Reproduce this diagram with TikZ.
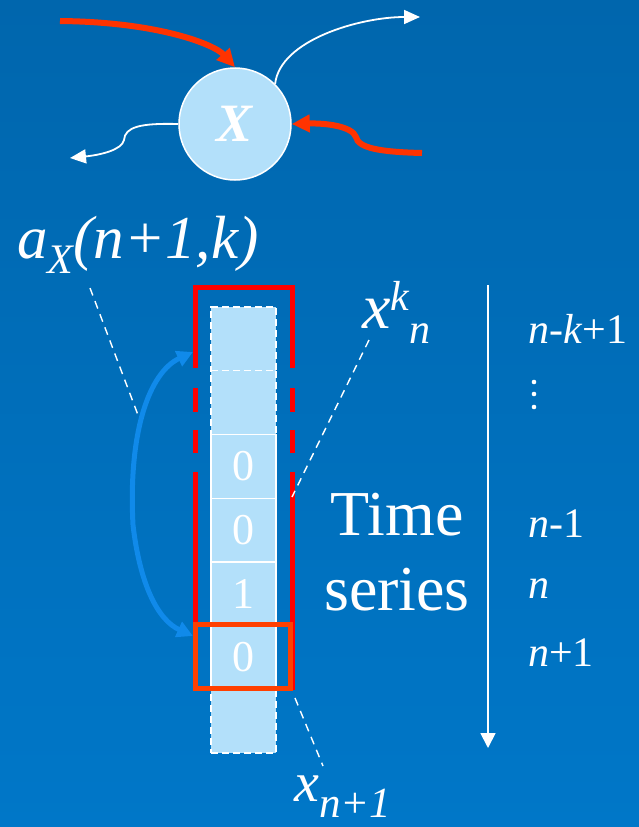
\documentclass[tikz,border=0pt]{standalone}
\usepackage{fontspec}
\setmainfont{Liberation Serif}
\usepackage{tikz}
\usetikzlibrary{arrows.meta,positioning}
\newcommand{\sz}[2]{\fontsize{#1}{#2}\selectfont}
\definecolor{BgTop}{HTML}{0066AD}
\definecolor{BgBot}{HTML}{0077C8}
\definecolor{Cell}{HTML}{B3E0FA}
\definecolor{Hot}{HTML}{FF3300}
\definecolor{Win}{HTML}{FF0000}
\definecolor{Cur}{HTML}{FF4000}
\definecolor{Link}{HTML}{108AEA}
\tikzset{
  every node/.append style={text=white},
  agent/.style={circle, draw=white, line width=1.5pt, fill=Cell, minimum size=112pt,
                inner sep=0pt, font=\sz{54}{60}\bfseries\itshape},
  cell/.style={draw=white, line width=1.3pt, fill=Cell, minimum width=65pt,
               minimum height=63.7pt, inner sep=0pt, outer sep=0pt, font=\sz{44}{50}},
  ghost/.style={cell, dash pattern=on 7pt off 4pt},
  lbl/.style={inner sep=0pt, anchor=base west},
  hotarrow/.style={-{Triangle[length=18pt,width=17pt]}, line width=6pt, draw=Hot},
  thin/.style={-{Triangle[length=16pt,width=14pt]}, line width=1.8pt, draw=white},
  link/.style={-{Triangle[length=16pt,width=16pt]}, line width=5pt, draw=Link},
  guide/.style={draw=white, line width=1.4pt, dash pattern=on 8pt off 6pt},
  win/.style={draw=Win, line width=5pt,
              dash pattern=on 218pt off 19pt on 23pt off 18pt on 24pt off 20pt
                           on 259pt off 20pt on 24pt off 18pt on 23pt off 19pt on 300pt},
}
\begin{document}
\begin{tikzpicture}[x=1pt, y=-1pt]
  \useasboundingbox (0,0) rectangle (639,827);
  \fill[top color=BgTop, bottom color=BgBot] (0,0) rectangle (639,827);

  % the variable and its in/out links
  \node[agent] (agent) at (235,124) {X};
  \coordinate (inA) at (60,21);
  \coordinate (inB) at (422,153);
  \coordinate (outA) at (420,17);
  \coordinate (outB) at (70,158);
  \draw[hotarrow] (inA) .. controls (160,22) and (215,45) .. (agent.north);
  \draw[hotarrow] (inB) .. controls (380,152) and (358,148) .. (356,137)
                        .. controls (352,126) and (325,123) .. (agent.east);
  \draw[thin] (agent.45) .. controls (280,40) and (360,17) .. (outA);
  \draw[thin] (agent.west) .. controls (140,123) and (125,127) .. (124,140)
                           .. controls (122,150) and (100,155) .. (outB);

  % time series column
  \node[cell] (c3) at (243.5,466.3) {0};
  \node[ghost, above=0pt of c3] (c2) {};
  \node[ghost, above=0pt of c2] (c1) {};
  \node[cell, below=0pt of c3] (c4) {0};
  \node[cell, below=0pt of c4] (c5) {1};
  \node[cell, below=0pt of c5] (c6) {0};
  \node[ghost, below=0pt of c6] (c7) {};

  % window and current step
  \draw[win] (195,690) -- (195,287) -- (292,287) -- (292,690);
  \node[draw=Cur, line width=5pt, minimum width=95pt, minimum height=64pt,
        inner sep=0pt] (cur) at (243,656.5) {};

  % labels
  \node[lbl] (ax) at (17,258) {\sz{61}{64}\itshape a\raisebox{-15pt}{\sz{42}{46}X}(n+1,k)};
  \node[lbl] (xk) at (362,328) {\sz{64}{68}\itshape x\raisebox{18pt}{\sz{42}{46}k}\raisebox{-15pt}{\sz{42}{46}n}};
  \node[lbl] (xn) at (294,801) {\sz{56}{60}\itshape x\raisebox{-16pt}{\sz{43}{46}n+1}};
  \node[inner sep=0pt, anchor=base, align=center, font=\sz{64}{75}] (ts) at (397,610) {Time\\series};

  \coordinate (axFoot) at (90,288);
  \coordinate (axEnd) at (138,415);
  \coordinate (xkFoot) at (369,340);
  \coordinate (xkEnd) at (292,497);
  \coordinate (xnFoot) at (323,766);
  \coordinate (xnEnd) at (295,698);
  \draw[guide] (axFoot) -- (axEnd);
  \draw[guide] (xkFoot) -- (xkEnd);
  \draw[guide] (xnEnd) -- (xnFoot);

  % window link
  \coordinate (kink) at (133,525);
  \coordinate (hiTip) at (193,352);
  \coordinate (loTip) at (193,636);
  \draw[link] (kink) .. controls (128,430) and (150,372) .. (hiTip);
  \draw[link] (kink) .. controls (140,585) and (158,620) .. (loTip);

  % time axis
  \coordinate (tTop) at (488,285);
  \coordinate (tEnd) at (488,748);
  \draw[thin, -{Triangle[length=15pt,width=15pt]}] (tTop) -- (tEnd);
  \node[lbl, font=\sz{42}{46}] (rk) at (528,343) {\textit{n}-\textit{k}+1};
  \foreach \y in {382,394,407} \fill[white] (534,\y) circle (2.3pt);
  \node[lbl, font=\sz{42}{46}] (r1) at (528,537) {\textit{n}-1};
  \node[lbl, font=\sz{42}{46}] (r0) at (528,598) {\textit{n}};
  \node[lbl, font=\sz{42}{46}] (rp) at (528,666) {\textit{n}+1};
\end{tikzpicture}
\end{document}
